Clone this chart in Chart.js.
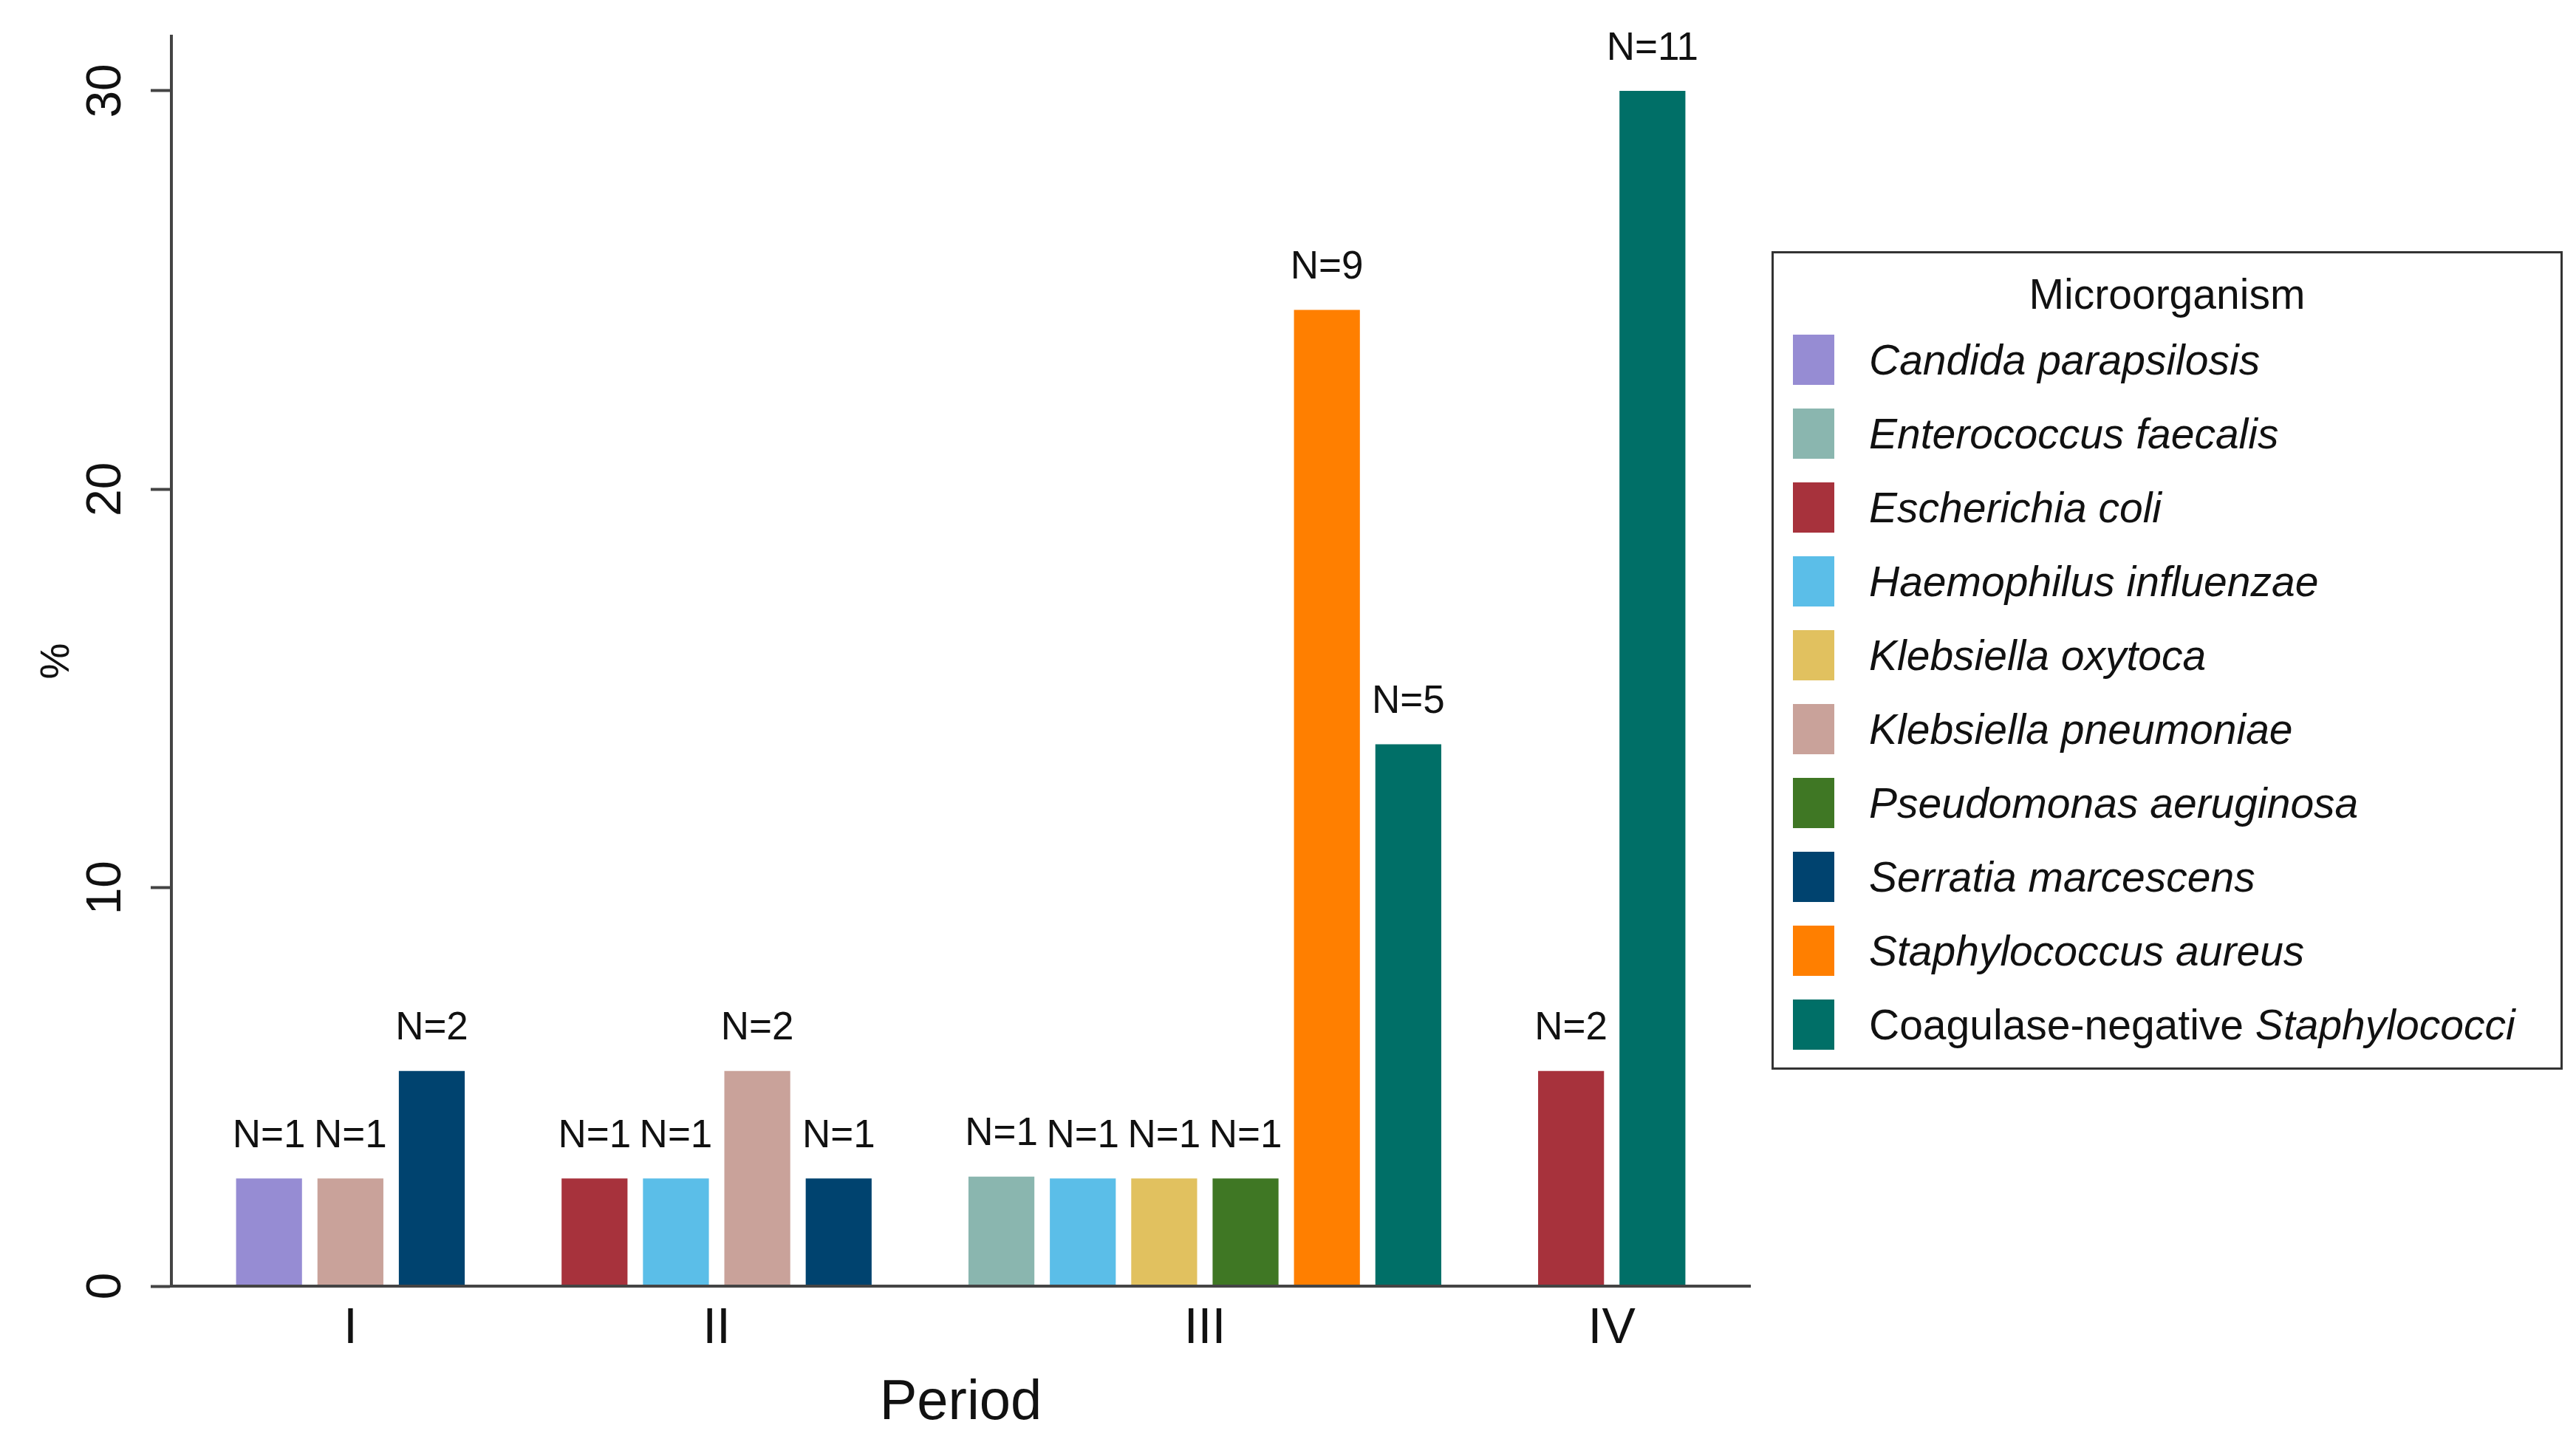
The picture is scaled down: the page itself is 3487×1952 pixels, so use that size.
<!DOCTYPE html>
<html>
<head>
<meta charset="utf-8">
<script src="https://cdn.jsdelivr.net/npm/chart.js@4.4.1/dist/chart.umd.min.js"></script>
<style>
  html, body { margin: 0; padding: 0; background: #fff; }
  #wrap { position: relative; width: 3487px; height: 1952px; }
  #chart { position: absolute; left: 0; top: 0; }
  #legend {
    position: absolute; left: 2398px; top: 340px; width: 1071px; height: 1108px;
    box-sizing: border-box; border: 3px solid #333; background: #fff;
    font-family: 'Liberation Sans', Arial, Helvetica, sans-serif; color: #111;
  }
  #legend .title { text-align: center; font-size: 57px; padding-top: 16px; height: 78px; line-height: 78px; }
  #legend .item { display: flex; align-items: center; height: 100px; font-size: 57px; }
  #legend .sw { width: 56px; height: 68px; margin-left: 26px; margin-right: 47px; flex: none; }
  #legend i { font-style: italic; }
</style>
</head>
<body>
<div id="wrap">
  <canvas id="chart" width="3487" height="1952" style="width:3487px;height:1952px"></canvas>
  <div id="legend"></div>
</div>
<script>
const FONT = "'Liberation Sans', Arial, Helvetica, sans-serif";

const periods = ['I', 'II', 'III', 'IV'];
const organisms = [
  'Candida parapsilosis', 'Enterococcus faecalis', 'Escherichia coli', 'Haemophilus influenzae',
  'Klebsiella oxytoca', 'Klebsiella pneumoniae', 'Pseudomonas aeruginosa', 'Serratia marcescens',
  'Staphylococcus aureus', 'Coagulase-negative Staphylococci'
];
const organismColors = ['#968cd3', '#8ab6af', '#a7323c', '#5bbee8', '#e1c15f', '#c9a29a', '#3f7724', '#00436f', '#ff7f00', '#006f67'];

// one entry per bar, left to right
const barPeriod   = [0, 0, 0, 1, 1, 1, 1, 2, 2, 2, 2, 2, 2, 3, 3];
const barOrganism = [0, 5, 7, 2, 3, 5, 7, 1, 3, 4, 6, 8, 9, 2, 9];
const barPct      = [2.7, 2.7, 5.4, 2.7, 2.7, 5.4, 2.7, 2.75, 2.7, 2.7, 2.7, 24.5, 13.6, 5.4, 30.0];
const barN        = [1, 1, 2, 1, 1, 2, 1, 1, 1, 1, 1, 9, 5, 2, 11];
const yTicks = [0, 10, 20, 30];

// bars sit side by side, one empty slot between periods
const barSlot = [];
let slot = 0;
barPeriod.forEach((p, i) => {
  if (i > 0 && p !== barPeriod[i - 1]) slot++;
  barSlot.push(slot++);
});
const periodCenters = periods.map((_, p) => {
  const s = barSlot.filter((_, i) => barPeriod[i] === p);
  return (s[0] + s[s.length - 1]) / 2;
});

const datasets = organisms.map((name, o) => ({
  label: name,
  data: barOrganism.map((org, i) => org === o ? { x: barSlot[i], y: barPct[i], n: barN[i] } : null).filter(Boolean),
  backgroundColor: organismColors[o],
  borderWidth: 0,
  grouped: false,
  barPercentage: 0.9,
  categoryPercentage: 0.9
}));

const nLabels = {
  id: 'nLabels',
  afterDatasetsDraw(chart) {
    const ctx = chart.ctx;
    ctx.save();
    ctx.font = '53px ' + FONT;
    ctx.fillStyle = '#111';
    ctx.textAlign = 'center';
    ctx.textBaseline = 'middle';
    chart.data.datasets.forEach((ds, d) => {
      chart.getDatasetMeta(d).data.forEach((bar, j) => {
        ctx.fillText('N=' + ds.data[j].n, bar.x, bar.y - 57);
      });
    });
    ctx.restore();
  }
};

new Chart(document.getElementById('chart'), {
  type: 'bar',
  data: { datasets },
  plugins: [nLabels],
  options: {
    responsive: false,
    animation: false,
    layout: { padding: { left: 0, top: 49, right: 1118, bottom: 0 } },
    plugins: { legend: { display: false }, tooltip: { enabled: false } },
    scales: {
      x: {
        type: 'linear',
        offset: false,
        min: -1.2,
        max: 18.2,
        afterBuildTicks: s => { s.ticks = periodCenters.map(v => ({ value: v })); },
        afterFit: s => { s.height = 211; s.paddingLeft = 0; s.paddingRight = 0; },
        ticks: {
          callback: (v, i) => periods[i],
          font: { family: FONT, size: 68 }, color: '#111',
          padding: 17, autoSkip: false, maxRotation: 0
        },
        grid: { display: false, drawTicks: false },
        border: { display: true, color: '#444', width: 4, z: 1 },
        title: {
          display: true, text: 'Period', color: '#111',
          font: { family: FONT, size: 76 }, padding: { top: 0, bottom: 6 }
        }
      },
      y: {
        type: 'linear',
        min: 0,
        max: 31.37,
        afterBuildTicks: s => { s.ticks = yTicks.map(v => ({ value: v })); },
        afterFit: s => { s.width = 232; s.paddingTop = 0; s.paddingBottom = 0; },
        ticks: {
          font: { family: FONT, size: 66 }, color: '#111',
          minRotation: 90, maxRotation: 90, crossAlign: 'center', padding: 22
        },
        grid: { display: true, drawOnChartArea: false, drawTicks: true, tickLength: 28, tickWidth: 4, tickColor: '#444' },
        border: { display: true, color: '#444', width: 4, z: 1 },
        title: {
          display: true, text: '%', color: '#111',
          font: { family: FONT, size: 55 }, padding: { top: 45, bottom: 0 }
        }
      }
    }
  }
});

// legend with the species names in italics
const legend = document.getElementById('legend');
legend.innerHTML = '<div class="title">Microorganism</div>' + organisms.map((name, o) => {
  const prefix = 'Coagulase-negative ';
  const label = name.startsWith(prefix) ? prefix + '<i>' + name.slice(prefix.length) + '</i>' : '<i>' + name + '</i>';
  return `<div class="item"><span class="sw" style="background:${organismColors[o]}"></span><span>${label}</span></div>`;
}).join('');
</script>
</body>
</html>
